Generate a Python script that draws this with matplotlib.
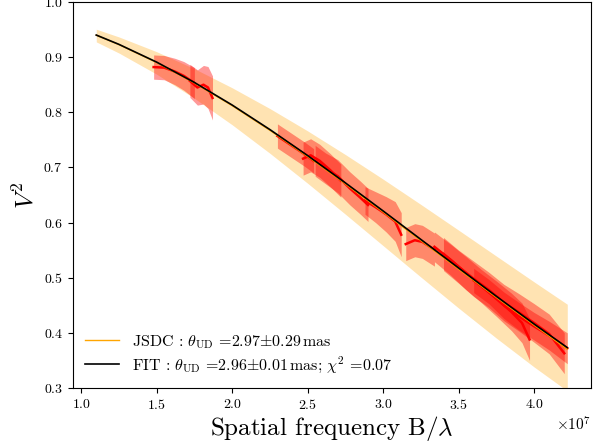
import matplotlib
matplotlib.use("Agg")
import matplotlib.pyplot as plt
import numpy as np

plt.rcParams['font.family'] = 'serif'
plt.rcParams['font.serif'] = ['cmr10']
plt.rcParams['mathtext.fontset'] = 'cm'
plt.rcParams['axes.unicode_minus'] = False
plt.rcParams['axes.formatter.use_mathtext'] = True

# spatial frequency grid (units of 1e7) for the models
freq_model = [1.10, 1.25, 1.50, 1.75, 2.00, 2.25, 2.50, 2.75, 3.00, 3.25, 3.50, 3.75, 4.00, 4.22]
v2_fit = [0.9401, 0.9232, 0.8910, 0.8541, 0.8132, 0.7687, 0.7215, 0.6720, 0.6211, 0.5694, 0.5176, 0.4663, 0.4160, 0.3732]
v2_jsdc = [0.9398, 0.9228, 0.8903, 0.8533, 0.8121, 0.7674, 0.7199, 0.6703, 0.6192, 0.5675, 0.5157, 0.4644, 0.4141, 0.3704]
v2_jsdc_hi = [0.9507, 0.9367, 0.9099, 0.8790, 0.8445, 0.8068, 0.7663, 0.7234, 0.6788, 0.6329, 0.5863, 0.5393, 0.4925, 0.4519]
v2_jsdc_lo = [0.9277, 0.9075, 0.8691, 0.8254, 0.7774, 0.7257, 0.6713, 0.6152, 0.5582, 0.5012, 0.4450, 0.3905, 0.3382, 0.2947]

# measured V2 per baseline (freq in 1e7, value, error)
seg_freq = [
    [1.48, 1.55, 1.62, 1.68, 1.75],
    [1.72, 1.77, 1.81, 1.84, 1.87],
    [2.30, 2.36, 2.42, 2.48, 2.54],
    [2.47, 2.52, 2.58, 2.65, 2.72],
    [2.55, 2.62, 2.70, 2.78, 2.85, 2.90],
    [2.88, 2.95, 3.02, 3.08, 3.12],
    [3.15, 3.21, 3.26, 3.30, 3.34],
    [3.34, 3.45, 3.55, 3.65, 3.75, 3.85, 3.92, 3.97],
    [3.40, 3.50, 3.60, 3.70, 3.80, 3.90, 4.00, 4.10, 4.20],
    [3.60, 3.70, 3.80, 3.90, 4.00, 4.10, 4.22],
]
seg_v2 = [
    [0.882, 0.881, 0.874, 0.866, 0.853],
    [0.857, 0.845, 0.850, 0.845, 0.826],
    [0.757, 0.746, 0.735, 0.724, 0.712],
    [0.716, 0.722, 0.712, 0.695, 0.676],
    [0.712, 0.698, 0.684, 0.662, 0.645, 0.632],
    [0.640, 0.628, 0.615, 0.602, 0.578],
    [0.561, 0.568, 0.565, 0.558, 0.551],
    [0.556, 0.532, 0.508, 0.485, 0.462, 0.438, 0.418, 0.388],
    [0.543, 0.520, 0.498, 0.478, 0.455, 0.437, 0.418, 0.398, 0.363],
    [0.495, 0.475, 0.450, 0.430, 0.412, 0.395, 0.372],
]
seg_err = [
    [0.022, 0.022, 0.024, 0.026, 0.028],
    [0.030, 0.032, 0.035, 0.038, 0.040],
    [0.022, 0.022, 0.022, 0.022, 0.022],
    [0.030, 0.030, 0.030, 0.030, 0.030],
    [0.028, 0.028, 0.030, 0.030, 0.030, 0.030],
    [0.025, 0.028, 0.032, 0.036, 0.040],
    [0.030, 0.030, 0.030, 0.030, 0.030],
    [0.027, 0.028, 0.030, 0.030, 0.032, 0.034, 0.036, 0.038],
    [0.030, 0.030, 0.032, 0.032, 0.033, 0.034, 0.035, 0.036, 0.037],
    [0.022, 0.022, 0.024, 0.025, 0.025, 0.026, 0.028],
]

fig = plt.figure(figsize=(6.11, 4.47), dpi=100)
ax = fig.add_axes([0.119, 0.132, 0.848, 0.8635])

f = np.array(freq_model) * 1e7
ax.fill_between(f, v2_jsdc_lo, v2_jsdc_hi, color='orange', alpha=0.3, lw=0)

for fr, v, e in zip(seg_freq, seg_v2, seg_err):
    fr = np.array(fr) * 1e7
    v = np.array(v)
    e = np.array(e)
    ax.fill_between(fr, v - e, v + e, color='red', alpha=0.4, lw=0)
    ax.plot(fr, v, color='red', lw=1.8)

ax.plot(f, v2_jsdc, color='orange', lw=1,
        label=r'JSDC : $\theta_{\rm UD}$ =2.97$\pm$0.29$\,$mas')
ax.plot(f, v2_fit, color='black', lw=1.2,
        label=r'FIT : $\theta_{\rm UD}$ =2.96$\pm$0.01$\,$mas; $\chi^2$ =0.07')

ax.set_ylim(0.3, 1.0)
ax.set_xlabel(r'Spatial frequency B/$\lambda$', fontsize=18, labelpad=2)
ax.set_ylabel(r'$V^2$', fontsize=18)
ax.tick_params(labelsize=10)
ax.xaxis.get_offset_text().set_fontsize(11)
ax.legend(loc='lower left', frameon=False, fontsize=11.5, handlelength=2.1,
          labelspacing=0.25, borderaxespad=0.4)

fig.savefig('out.png', dpi=100)
